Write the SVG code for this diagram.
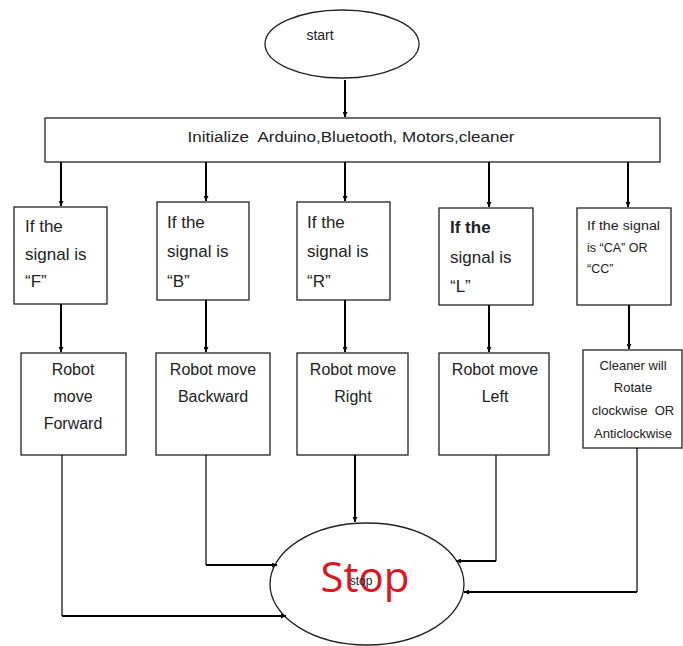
<svg xmlns="http://www.w3.org/2000/svg" width="683" height="646" viewBox="0 0 683 646">
<defs>
<marker id="ah" viewBox="0 0 10 10" refX="10" refY="5" markerWidth="5" markerHeight="5" orient="auto" markerUnits="userSpaceOnUse">
<path d="M0,0 L10,5 L0,10 z" fill="#000"/>
</marker>
<style>
.box{fill:#fff;stroke:#222;stroke-width:1.3}
.t{font-family:"Liberation Sans",Arial,sans-serif;fill:#222;white-space:pre}
.c{text-anchor:middle}
.ln{fill:none;stroke:#000;stroke-width:2}
.thin{fill:none;stroke:#000;stroke-width:1.2}
</style>
</defs>
<rect width="683" height="646" fill="#fff"/>
<g id="start">
<ellipse cx="342" cy="44" rx="77" ry="34" class="box"/>
<text x="320" y="40" class="t c" font-size="14">start</text>
</g>
<g id="init">
<rect x="45" y="118" width="615" height="44" class="box"/>
<text x="351" y="142" class="t c" font-size="14" textLength="327" lengthAdjust="spacingAndGlyphs" xml:space="preserve">Initialize  Arduino,Bluetooth, Motors,cleaner</text>
</g>
<g id="ifF">
<rect x="14" y="207" width="93" height="97" class="box"/>
<text class="t" font-size="17"><tspan x="25" y="232">If the</tspan><tspan x="25" y="260">signal is</tspan><tspan x="25" y="287">“F”</tspan></text>
</g>
<g id="ifB">
<rect x="157" y="202" width="92" height="98" class="box"/>
<text class="t" font-size="17"><tspan x="167" y="228">If the</tspan><tspan x="167" y="257">signal is</tspan><tspan x="167" y="287">“B”</tspan></text>
</g>
<g id="ifR">
<rect x="297" y="202" width="93" height="98" class="box"/>
<text class="t" font-size="17"><tspan x="307" y="228">If the</tspan><tspan x="307" y="257">signal is</tspan><tspan x="307" y="287">“R”</tspan></text>
</g>
<g id="ifL">
<rect x="439" y="208" width="94" height="97" class="box"/>
<text class="t" font-size="17"><tspan x="450" y="233" font-weight="bold">If the</tspan><tspan x="450" y="263">signal is</tspan><tspan x="450" y="292">“L”</tspan></text>
</g>
<g id="ifC">
<rect x="577" y="208" width="94" height="97" class="box"/>
<text class="t" font-size="12.5"><tspan x="587" y="230" textLength="73" lengthAdjust="spacingAndGlyphs">If the signal</tspan><tspan x="587" y="252">is “CA” OR</tspan><tspan x="587" y="273">“CC”</tspan></text>
</g>
<g id="fwd">
<rect x="21" y="353" width="105" height="102" class="box"/>
<text class="t c" font-size="16"><tspan x="73" y="375">Robot</tspan><tspan x="73" y="402">move</tspan><tspan x="73" y="429">Forward</tspan></text>
</g>
<g id="bwd">
<rect x="156" y="353" width="114" height="102" class="box"/>
<text class="t c" font-size="16"><tspan x="213" y="375">Robot move</tspan><tspan x="213" y="402">Backward</tspan></text>
</g>
<g id="right">
<rect x="297" y="353" width="111" height="102" class="box"/>
<text class="t c" font-size="16"><tspan x="353" y="375">Robot move</tspan><tspan x="353" y="402">Right</tspan></text>
</g>
<g id="left">
<rect x="439" y="353" width="110" height="102" class="box"/>
<text class="t c" font-size="16"><tspan x="495" y="375">Robot move</tspan><tspan x="495" y="402">Left</tspan></text>
</g>
<g id="clean">
<rect x="583" y="350" width="99" height="98" class="box"/>
<text class="t c" font-size="13" xml:space="preserve"><tspan x="633" y="370">Cleaner will</tspan><tspan x="633" y="392">Rotate</tspan><tspan x="633" y="415">clockwise  OR</tspan><tspan x="633" y="438">Anticlockwise</tspan></text>
</g>
<g id="stop">
<ellipse cx="367" cy="584" rx="97" ry="61" class="box"/>
<text x="365" y="592" class="c" font-family="'Open Sans','Liberation Sans',sans-serif" font-size="42" fill="#e0141e">Stop</text>
<text x="361" y="585" class="t c" font-size="12">stop</text>
</g>
<g id="connectors">
<path class="ln" d="M345,80 V117" marker-end="url(#ah)"/>
<path class="ln" d="M61,162 V206" marker-end="url(#ah)"/>
<path class="ln" d="M206,162 V201" marker-end="url(#ah)"/>
<path class="ln" d="M345,162 V201" marker-end="url(#ah)"/>
<path class="ln" d="M489,162 V207" marker-end="url(#ah)"/>
<path class="ln" d="M628,162 V207" marker-end="url(#ah)"/>
<path class="ln" d="M61,304 V352" marker-end="url(#ah)"/>
<path class="ln" d="M206,300 V352" marker-end="url(#ah)"/>
<path class="ln" d="M345,300 V352" marker-end="url(#ah)"/>
<path class="ln" d="M489,305 V352" marker-end="url(#ah)"/>
<path class="ln" d="M629,305 V349" marker-end="url(#ah)"/>
<path class="thin" d="M62,455 V616"/>
<path class="ln" d="M62,616 H286" marker-end="url(#ah)"/>
<path class="thin" d="M206,455 V565"/>
<path class="ln" d="M206,565 H277" marker-end="url(#ah)"/>
<path class="ln" d="M355,455 V522" marker-end="url(#ah)"/>
<path class="thin" d="M496,455 V561"/>
<path class="ln" d="M496,561 H456" marker-end="url(#ah)"/>
<path class="thin" d="M637,448 V592"/>
<path class="ln" d="M637,592 H464" stroke-width="3" marker-end="url(#ah)"/>
</g>
</svg>
